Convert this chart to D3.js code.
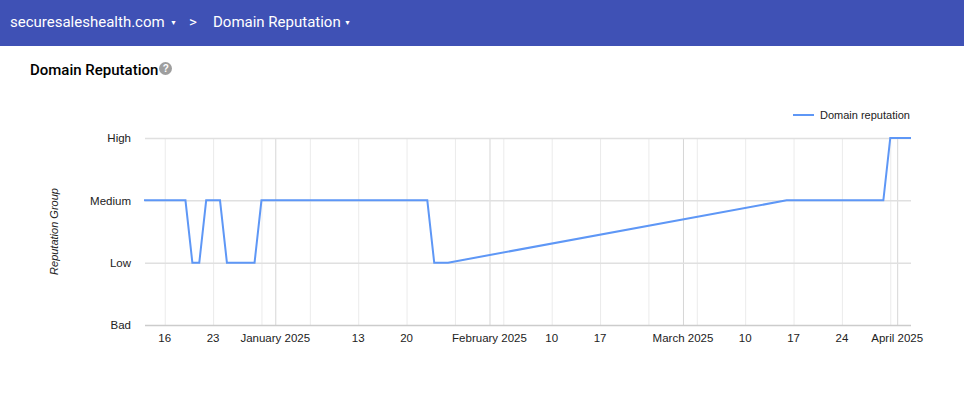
<!DOCTYPE html>
<html>
<head>
<meta charset="utf-8">
<script src="https://cdn.jsdelivr.net/npm/d3@7"></script>
<style>
  body { margin: 0; background: #fff; }
  .topbar { height: 46px; background: #3f51b5; color: #fff; font-family: Roboto, sans-serif; font-size: 15px; position: relative; }
  .topbar span { position: absolute; top: 13px; white-space: nowrap; }
  .caret { font-size: 7px; top: 19px !important; }
  .title { position: absolute; left: 30px; top: 61px; font-family: Roboto, sans-serif; font-weight: 500; font-size: 15px; color: #000; }
  .help { display: inline-block; width: 13px; height: 13px; border-radius: 7px; background: #9e9e9e; color: #fff; font-size: 10px; font-weight: bold; text-align: center; line-height: 13px; vertical-align: 3px; margin-left: 1px; font-family: Arial, sans-serif; }
  #chart { position: absolute; left: 0; top: 46px; }
</style>
</head>
<body>
<div class="topbar">
  <span style="left:10px">securesaleshealth.com</span>
  <span class="caret" style="left:170px">&#9660;</span>
  <span style="left:189px">&gt;</span>
  <span style="left:213px">Domain Reputation</span>
  <span class="caret" style="left:344px">&#9660;</span>
</div>
<div class="title">Domain Reputation<span class="help">?</span></div>
<div id="chart"></div>
<script>
// data
const levels = ['Bad', 'Low', 'Medium', 'High'];
const dates = ['2024-12-13', '2024-12-19', '2024-12-20', '2024-12-21', '2024-12-22', '2024-12-24',
  '2024-12-25', '2024-12-29', '2024-12-30', '2025-01-23', '2025-01-24', '2025-01-26',
  '2025-03-16', '2025-03-30', '2025-03-31', '2025-04-03'];
const reputation = ['Medium', 'Medium', 'Low', 'Low', 'Medium', 'Medium',
  'Low', 'Low', 'Medium', 'Medium', 'Low', 'Low',
  'Medium', 'Medium', 'High', 'High'];
const weekTicks = ['2024-12-16', '2024-12-23', '2024-12-30', '2025-01-06', '2025-01-13', '2025-01-20',
  '2025-01-27', '2025-02-03', '2025-02-10', '2025-02-17', '2025-02-24', '2025-03-03',
  '2025-03-10', '2025-03-17', '2025-03-24', '2025-03-31'];
const monthTicks = ['2025-01-01', '2025-02-01', '2025-03-01', '2025-04-01'];
const tickLabels = ['16', '23', '', '', '13', '20', '', '', '10', '17', '', '', '10', '17', '24', ''];
const monthLabels = ['January 2025', 'February 2025', 'March 2025', 'April 2025'];

const parseDate = d3.timeParse('%Y-%m-%d');
const data = dates.map((d, i) => ({ date: parseDate(d), level: levels.indexOf(reputation[i]) }));

// chart
const width = 964, height = 351;
const margin = { top: 92, right: 53, bottom: 72, left: 145 };

const xScale = d3.scaleTime()
  .domain([parseDate('2024-12-13'), parseDate('2025-04-03')])
  .range([margin.left - 1, width - margin.right]);
const yScale = d3.scaleLinear()
  .domain([0, 3])
  .range([height - margin.bottom, margin.top]);

const svg = d3.select('#chart').append('svg')
  .attr('width', width)
  .attr('height', height)
  .style('font-family', 'Arial, "Liberation Sans", sans-serif');

// vertical gridlines
svg.append('g').attr('class', 'grid-week')
  .call(d3.axisBottom(xScale)
    .tickValues(weekTicks.map(parseDate))
    .tickSize(-(yScale(0) - yScale(3)))
    .tickFormat(''))
  .attr('transform', `translate(0,${yScale(0)})`)
  .call(g => g.select('.domain').remove())
  .call(g => g.selectAll('line').attr('stroke', '#ebebeb'));

svg.append('g').attr('class', 'grid-month')
  .call(d3.axisBottom(xScale)
    .tickValues(monthTicks.map(parseDate))
    .tickSize(-(yScale(0) - yScale(3)))
    .tickFormat(''))
  .attr('transform', `translate(0,${yScale(0)})`)
  .call(g => g.select('.domain').remove())
  .call(g => g.selectAll('line').attr('stroke', '#d6d6d6'));

// horizontal gridlines
const yAxis = d3.axisLeft(yScale)
  .tickValues([0, 1, 2, 3])
  .tickFormat(d => levels[d])
  .tickSize(-(width - margin.left - margin.right));

svg.append('g').attr('class', 'y-axis')
  .attr('transform', `translate(${margin.left},0)`)
  .call(yAxis)
  .call(g => g.select('.domain').remove())
  .call(g => g.selectAll('line').attr('stroke', d => d === 0 ? '#cccccc' : '#e0e0e0').attr('stroke-width', 1.5))
  .call(g => g.selectAll('text').attr('x', -14).attr('fill', '#222').style('font-size', '11.5px'));

// x labels
const xLabels = svg.append('g').attr('class', 'x-axis');
xLabels.selectAll('.wk')
  .data(weekTicks.map((d, i) => ({ date: parseDate(d), label: tickLabels[i] })).filter(d => d.label))
  .join('text')
  .attr('x', d => xScale(d.date))
  .attr('y', yScale(0) + 17)
  .attr('text-anchor', 'middle')
  .attr('fill', '#222')
  .style('font-size', '11.5px')
  .text(d => d.label);
xLabels.selectAll('.mo')
  .data(monthTicks.map((d, i) => ({ date: parseDate(d), label: monthLabels[i] })))
  .join('text')
  .attr('x', d => xScale(d.date))
  .attr('y', yScale(0) + 17)
  .attr('text-anchor', 'middle')
  .attr('fill', '#222')
  .style('font-size', '11.5px')
  .text(d => d.label);

// y title
svg.append('text')
  .attr('transform', `translate(58,${(yScale(0) + yScale(3)) / 2}) rotate(-90)`)
  .attr('text-anchor', 'middle')
  .attr('fill', '#222')
  .style('font-size', '11px')
  .style('font-style', 'italic')
  .text('Reputation Group');

// line
const line = d3.line()
  .x(d => xScale(d.date))
  .y(d => yScale(d.level));

svg.append('path')
  .datum(data)
  .attr('fill', 'none')
  .attr('stroke', '#5e97f6')
  .attr('stroke-width', 2)
  .attr('d', line);

// legend
const legend = svg.append('g').attr('transform', 'translate(793,69)');
legend.append('line')
  .attr('x1', 0).attr('x2', 21)
  .attr('stroke', '#5e97f6').attr('stroke-width', 2);
legend.append('text')
  .attr('x', 27).attr('y', 4)
  .attr('fill', '#222')
  .style('font-size', '11px')
  .text('Domain reputation');
</script>
</body>
</html>
